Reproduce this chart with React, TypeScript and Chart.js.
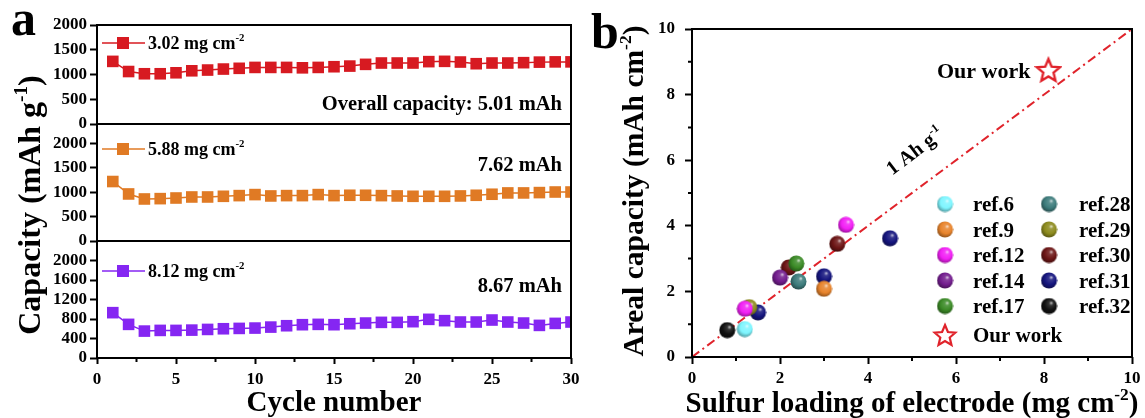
import React, { useEffect, useRef } from 'react';
import { Chart, registerables } from 'chart.js';

Chart.register(...registerables);

const W = 1145;
const H = 418;
const FONT = "'Liberation Serif', 'Times New Roman', serif";

// ---------------- panel a data ----------------
const cycles = [1, 2, 3, 4, 5, 6, 7, 8, 9, 10, 11, 12, 13, 14, 15, 16, 17, 18, 19, 20, 21, 22, 23, 24, 25, 26, 27, 28, 29, 30];
const cap302 = [1265, 1060, 1015, 1015, 1035, 1075, 1090, 1110, 1125, 1143, 1143, 1143, 1135, 1143, 1157, 1170, 1205, 1232, 1232, 1232, 1260, 1266, 1252, 1218, 1232, 1232, 1239, 1250, 1255, 1255];
const cap588 = [1220, 965, 862, 869, 882, 903, 903, 917, 931, 952, 924, 931, 931, 952, 931, 938, 938, 931, 924, 917, 917, 917, 924, 938, 959, 986, 986, 993, 1005, 1005];
const cap812 = [930, 690, 552, 566, 566, 572, 586, 600, 607, 614, 634, 662, 683, 690, 683, 703, 717, 731, 731, 745, 793, 766, 738, 738, 779, 738, 717, 669, 710, 738];
const loadingLabels = ['3.02', '5.88', '8.12'];
const noteLabels = ['Overall capacity: 5.01 mAh', '7.62 mAh', '8.67 mAh'];
const xTicksA = [0, 5, 10, 15, 20, 25, 30];
const xMinorA = [2.5, 7.5, 12.5, 17.5, 22.5, 27.5];
const yTicksA = [0, 500, 1000, 1500, 2000];
const yTicksA3 = [0, 400, 800, 1200, 1600, 2000];

// ---------------- panel b data ----------------
const refNames = ['ref.6', 'ref.9', 'ref.12', 'ref.14', 'ref.17', 'ref.28', 'ref.29', 'ref.30', 'ref.31', 'ref.32'];
const refColors = ['#7ff6ff', '#e8842c', '#f21ff5', '#731d8e', '#3b8a26', '#3d7c7c', '#8d8b1e', '#6c1515', '#15157e', '#111111'];
const refLoading = [[1.2], [3.0], [1.2, 3.5], [2.0], [2.37], [2.42], [1.3], [2.2, 3.3], [1.5, 3.0, 4.5], [0.8]];
const refAreal = [[0.85], [2.08], [1.47, 4.03], [2.42], [2.85], [2.3], [1.52], [2.73, 3.45], [1.36, 2.46, 3.62], [0.82]];
const ourLoading = [8.1];
const ourAreal = [8.75];
const guideLoading = [0, 10];
const guideAreal = [0, 10];
const ticksB = [0, 2, 4, 6, 8, 10];
const minorB = [1, 3, 5, 7, 9];

const RED = '#e0232b';

type Seg = { t: string; sup?: boolean };

function richWidth(ctx: CanvasRenderingContext2D, segs: Seg[], size: number) {
  let w = 0;
  for (const s of segs) {
    ctx.font = `bold ${s.sup ? size * 0.6 : size}px ${FONT}`;
    w += ctx.measureText(s.t).width;
  }
  return w;
}

function drawRich(ctx: CanvasRenderingContext2D, segs: Seg[], x: number, y: number, size: number, align: 'left' | 'center' | 'right', color = '#000') {
  const w = richWidth(ctx, segs, size);
  let cx = align === 'left' ? x : align === 'center' ? x - w / 2 : x - w;
  ctx.fillStyle = color;
  ctx.textBaseline = 'alphabetic';
  ctx.textAlign = 'left';
  for (const s of segs) {
    const sz = s.sup ? size * 0.6 : size;
    ctx.font = `bold ${sz}px ${FONT}`;
    ctx.fillText(s.t, cx, s.sup ? y - size * 0.42 : y);
    cx += ctx.measureText(s.t).width;
  }
}

function hexToRgb(h: string) {
  const n = parseInt(h.slice(1), 16);
  return [(n >> 16) & 255, (n >> 8) & 255, n & 255];
}
function mix(h: string, target: number, t: number) {
  const [r, g, b] = hexToRgb(h);
  const f = (c: number) => Math.round(c + (target - c) * t);
  return `rgb(${f(r)},${f(g)},${f(b)})`;
}

function makeBall(color: string, d = 17) {
  const c = document.createElement('canvas');
  c.width = d;
  c.height = d;
  const g = c.getContext('2d')!;
  const r = d / 2;
  const grad = g.createRadialGradient(r * 1.3, r * 0.62, 0, r * 1.05, r * 0.9, r * 1.15);
  grad.addColorStop(0, mix(color, 255, 0.8));
  grad.addColorStop(0.22, mix(color, 255, 0.15));
  grad.addColorStop(0.6, color);
  grad.addColorStop(1, mix(color, 0, 0.45));
  g.fillStyle = grad;
  g.beginPath();
  g.arc(r, r, r - 0.5, 0, Math.PI * 2);
  g.fill();
  return c;
}

function makeStar(color: string, size = 28, R = 12, lw = 2.4) {
  const c = document.createElement('canvas');
  c.width = size;
  c.height = size;
  const g = c.getContext('2d')!;
  const cx = size / 2;
  const cy = size / 2 + 1;
  const rIn = R * 0.45;
  g.beginPath();
  for (let i = 0; i < 10; i++) {
    const a = -Math.PI / 2 + (i * Math.PI) / 5;
    const rr = i % 2 ? rIn : R;
    g.lineTo(cx + rr * Math.cos(a), cy + rr * Math.sin(a));
  }
  g.closePath();
  g.fillStyle = '#fff';
  g.fill();
  g.lineWidth = lw;
  g.lineJoin = 'miter';
  g.strokeStyle = color;
  g.stroke();
  return c;
}

function axis(tickLength: number, padding: number, values: number[]) {
  return {
    border: { display: false },
    grid: { display: true, drawOnChartArea: false, drawTicks: true, tickLength, tickWidth: 2, tickColor: '#000' },
    ticks: {
      font: { family: FONT, size: 17, weight: 'bold' as const },
      color: '#000',
      padding,
      autoSkip: false,
      maxRotation: 0,
      minRotation: 0,
      callback: (v: any) => String(v),
    },
    afterBuildTicks: (s: any) => {
      s.ticks = values.map((v) => ({ value: v }));
    },
  };
}

function frame(ctx: CanvasRenderingContext2D, a: any) {
  ctx.save();
  ctx.lineWidth = 2;
  ctx.strokeStyle = '#000';
  ctx.strokeRect(a.left, a.top, a.right - a.left, a.bottom - a.top);
  ctx.restore();
}

const panelsA = [
  { values: cap302, color: '#d71a21', yMax: 2000, yTicks: yTicksA, top: 25, bottom: 124, legendY: 43, noteY: 103, showX: false },
  { values: cap588, color: '#e07a24', yMax: 2400, yTicks: yTicksA, top: 124, bottom: 241, legendY: 149, noteY: 164, showX: false },
  { values: cap812, color: '#8526f2', yMax: 2400, yTicks: yTicksA3, top: 241, bottom: 358, legendY: 271, noteY: 285, showX: true },
];

function makeLeft(canvas: HTMLCanvasElement, idx: number) {
  const p = panelsA[idx];
  const pts = cycles.map((c, i) => ({ x: c, y: p.values[i] }));
  const extras = {
    id: 'extrasA' + idx,
    afterDraw(chart: any) {
      const ctx: CanvasRenderingContext2D = chart.ctx;
      const a = chart.chartArea;
      ctx.save();
      frame(ctx, a);
      // legend
      ctx.strokeStyle = p.color;
      ctx.lineWidth = 1.5;
      ctx.beginPath();
      ctx.moveTo(a.left + 5, p.legendY);
      ctx.lineTo(a.left + 48, p.legendY);
      ctx.stroke();
      ctx.fillStyle = p.color;
      ctx.fillRect(a.left + 26 - 6, p.legendY - 6, 12, 12);
      drawRich(ctx, [{ t: loadingLabels[idx] + ' mg cm' }, { t: '-2', sup: true }], a.left + 51, p.legendY + 6, 18, 'left');
      drawRich(ctx, [{ t: noteLabels[idx] }], a.right - 9, p.noteY + 6.5, 20.5, 'right');
      if (p.showX) {
        const xs = chart.scales.x;
        ctx.strokeStyle = '#000';
        ctx.lineWidth = 2;
        ctx.beginPath();
        for (const v of xMinorA) {
          const px = xs.getPixelForValue(v);
          ctx.moveTo(px, a.bottom);
          ctx.lineTo(px, a.bottom + 4);
        }
        ctx.stroke();
        drawRich(ctx, [{ t: 'Cycle number' }], (a.left + a.right) / 2, 411, 29, 'center');
      }
      if (idx === 0) {
        drawRich(ctx, [{ t: 'a' }], 11, 35, 50, 'left');
        ctx.save();
        ctx.translate(40, 205);
        ctx.rotate(-Math.PI / 2);
        drawRich(ctx, [{ t: 'Capacity (mAh g' }, { t: '-1', sup: true }, { t: ')' }], 0, 0, 32, 'center');
        ctx.restore();
      }
      ctx.restore();
    },
  };
  return new Chart(canvas, {
    type: 'line',
    data: {
      datasets: [
        {
          label: loadingLabels[idx],
          data: pts,
          borderColor: p.color,
          backgroundColor: p.color,
          borderWidth: 1.5,
          pointStyle: 'rect',
          pointRadius: 8.2,
          pointHoverRadius: 8.2,
          pointBorderWidth: 0,
          pointBackgroundColor: p.color,
          clip: 0,
          tension: 0,
        } as any,
      ],
    },
    options: {
      responsive: false,
      animation: false,
      events: [],
      layout: { padding: { left: 0, right: W - 571, top: p.top, bottom: p.showX ? 0 : H - p.bottom } },
      plugins: { legend: { display: false }, tooltip: { enabled: false } },
      scales: {
        x: {
          type: 'linear',
          min: 0,
          max: 30,
          display: p.showX,
          ...axis(6, 5, xTicksA),
          afterFit: (s: any) => {
            s.height = p.showX ? H - p.bottom : 0;
          },
        } as any,
        y: {
          type: 'linear',
          min: 0,
          max: p.yMax,
          ...axis(7, 3, p.yTicks),
          afterFit: (s: any) => {
            s.width = 97;
          },
        } as any,
      },
    },
    plugins: [extras],
  });
}

function makeRight(canvas: HTMLCanvasElement) {
  const balls = refColors.map((c) => makeBall(c));
  const star = makeStar(RED);
  const legendStar = makeStar(RED, 26, 11, 2.2);
  const datasets: any[] = refNames.map((name, i) => ({
    label: name,
    data: refLoading[i].map((x, j) => ({ x, y: refAreal[i][j] })),
    pointStyle: balls[i],
    pointRadius: 8,
    showLine: false,
  }));
  datasets.push({
    label: 'Our work',
    data: ourLoading.map((x, j) => ({ x, y: ourAreal[j] })),
    pointStyle: star,
    pointRadius: 12,
    showLine: false,
  });
  datasets.push({
    label: '1 Ah g-1',
    data: guideLoading.map((x, j) => ({ x, y: guideAreal[j] })),
    showLine: true,
    borderColor: RED,
    borderWidth: 2,
    borderDash: [9, 4, 2, 4],
    pointRadius: 0,
    clip: 0,
  });
  const colMarkerX = [945, 1049];
  const colTextX = [973, 1079];
  const rowY = [204, 229.5, 255, 280.5, 306, 335];
  const extras = {
    id: 'extrasB',
    afterDraw(chart: any) {
      const ctx: CanvasRenderingContext2D = chart.ctx;
      const a = chart.chartArea;
      const xs = chart.scales.x;
      const ys = chart.scales.y;
      ctx.save();
      frame(ctx, a);
      ctx.strokeStyle = '#000';
      ctx.lineWidth = 2;
      ctx.beginPath();
      for (const v of minorB) {
        const px = xs.getPixelForValue(v);
        ctx.moveTo(px, a.bottom);
        ctx.lineTo(px, a.bottom + 4);
        const py = ys.getPixelForValue(v);
        ctx.moveTo(a.left, py);
        ctx.lineTo(a.left - 4, py);
      }
      ctx.stroke();
      // legend
      refNames.forEach((name, i) => {
        const col = i < 5 ? 0 : 1;
        const row = i % 5;
        const img = balls[i];
        ctx.drawImage(img, colMarkerX[col] - img.width / 2, rowY[row] - img.height / 2);
        drawRich(ctx, [{ t: name }], colTextX[col], rowY[row] + 7, 21, 'left');
      });
      ctx.drawImage(legendStar, colMarkerX[0] - legendStar.width / 2, rowY[5] - legendStar.height / 2);
      drawRich(ctx, [{ t: 'Our work' }], colTextX[0], rowY[5] + 7, 21, 'left');
      // annotation next to star
      const sx = xs.getPixelForValue(ourLoading[0]);
      const sy = ys.getPixelForValue(ourAreal[0]);
      drawRich(ctx, [{ t: 'Our work' }], sx - 18, sy + 7.5, 22, 'right');
      // guide label
      ctx.save();
      ctx.translate(xs.getPixelForValue(5.05), ys.getPixelForValue(6.3));
      ctx.rotate((-37 * Math.PI) / 180);
      drawRich(ctx, [{ t: '1 Ah g' }, { t: '-1', sup: true }], 0, 7, 20, 'center');
      ctx.restore();
      // titles
      drawRich(ctx, [{ t: 'Sulfur loading of electrode (mg cm' }, { t: '-2', sup: true }, { t: ')' }], (a.left + a.right) / 2, 412, 29, 'center');
      ctx.save();
      ctx.translate(643, (a.top + a.bottom) / 2 - 2);
      ctx.rotate(-Math.PI / 2);
      drawRich(ctx, [{ t: 'Areal capacity (mAh cm' }, { t: '-2', sup: true }, { t: ')' }], 0, 0, 29.5, 'center');
      ctx.restore();
      drawRich(ctx, [{ t: 'b' }], 591, 48, 50, 'left');
      ctx.restore();
    },
  };
  return new Chart(canvas, {
    type: 'scatter',
    data: { datasets },
    options: {
      responsive: false,
      animation: false,
      events: [],
      layout: { padding: { left: 600, right: W - 1135, top: 29, bottom: 0 } },
      plugins: { legend: { display: false }, tooltip: { enabled: false } },
      scales: {
        x: {
          type: 'linear',
          min: 0,
          max: 10,
          ...axis(7, 4, ticksB),
          afterFit: (s: any) => {
            s.height = H - 357;
          },
        } as any,
        y: {
          type: 'linear',
          min: 0,
          max: 10,
          ...axis(7, 10, ticksB),
          afterFit: (s: any) => {
            s.width = 92;
          },
        } as any,
      },
    },
    plugins: [extras],
  });
}

export default function App() {
  const r1 = useRef<HTMLCanvasElement>(null);
  const r2 = useRef<HTMLCanvasElement>(null);
  const r3 = useRef<HTMLCanvasElement>(null);
  const r4 = useRef<HTMLCanvasElement>(null);
  useEffect(() => {
    const charts: Chart[] = [];
    [r1, r2, r3].forEach((r, i) => {
      if (r.current) charts.push(makeLeft(r.current, i));
    });
    if (r4.current) charts.push(makeRight(r4.current));
    return () => charts.forEach((c) => c.destroy());
  }, []);
  const st: React.CSSProperties = { position: 'absolute', left: 0, top: 0, width: W, height: H };
  return (
    <div style={{ position: 'absolute', left: 0, top: 0, width: W, height: H, background: '#fff', overflow: 'hidden' }}>
      <canvas ref={r1} width={W} height={H} style={st} />
      <canvas ref={r2} width={W} height={H} style={st} />
      <canvas ref={r3} width={W} height={H} style={st} />
      <canvas ref={r4} width={W} height={H} style={st} />
    </div>
  );
}
